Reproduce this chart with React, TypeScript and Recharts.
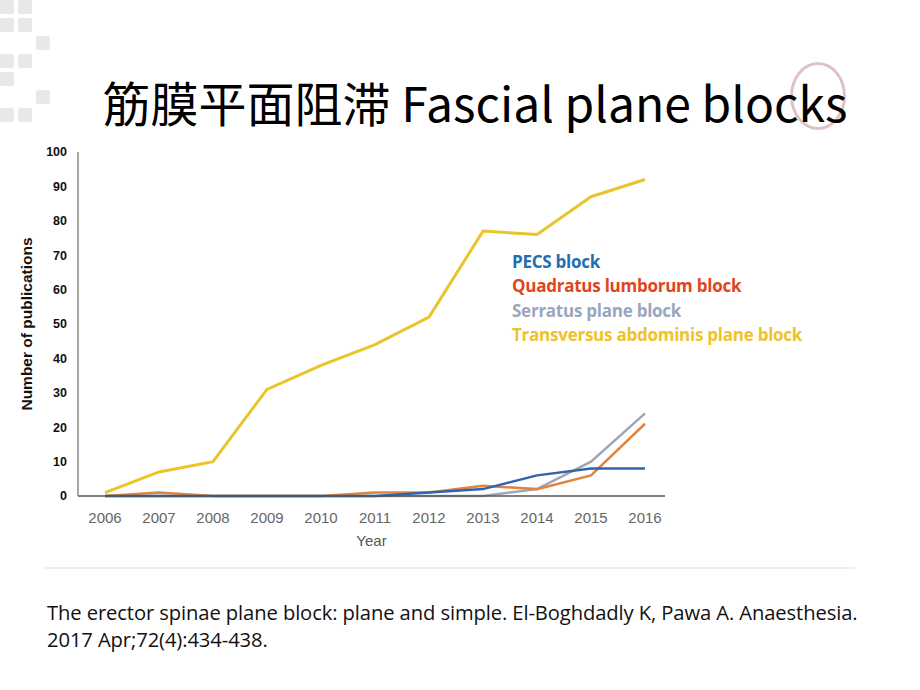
import React from "react";
import { LineChart, Line, XAxis, YAxis } from "recharts";

const years = [2006, 2007, 2008, 2009, 2010, 2011, 2012, 2013, 2014, 2015, 2016];
const pecs = [0, 0, 0, 0, 0, 0, 1, 2, 6, 8, 8];
const quadratus = [0, 1, 0, 0, 0, 1, 1, 3, 2, 6, 21];
const serratus = [0, 0, 0, 0, 0, 0, 0, 0, 2, 10, 24];
const transversus = [1, 7, 10, 31, 38, 44, 52, 77, 76, 87, 92];
const yTicks = [0, 10, 20, 30, 40, 50, 60, 70, 80, 90, 100];

const seriesNames = [
  "PECS block",
  "Quadratus lumborum block",
  "Serratus plane block",
  "Transversus abdominis plane block",
];
const lineColors = ["#2F64AE", "#E0843E", "#9EA6B4", "#E9C52B"];
const legendColors = ["#1F6EAF", "#DE4520", "#9AA6BC", "#F0C22A"];

const data = years.map((y, i) => ({
  year: y,
  pecs: pecs[i],
  quadratus: quadratus[i],
  serratus: serratus[i],
  transversus: transversus[i],
}));

export default function App() {
  const squares = [
    [0, 0], [18, 0], [0, 18], [18, 18], [36, 36], [0, 54], [18, 54], [0, 72], [36, 90], [0, 108], [18, 108],
  ];
  return (
    <div style={{ position: "absolute", left: 0, top: 0, width: 920, height: 690, background: "#fff", overflow: "hidden" }}>
      {squares.map(([x, y], i) => (
        <div key={i} style={{ position: "absolute", left: x, top: y, width: 14, height: 14, background: "#e8e8e8", borderRadius: 2 }} />
      ))}
      <div style={{ position: "absolute", left: 790, top: 62, width: 50, height: 62, borderRadius: "50%", border: "3px solid #c99", opacity: 0.6 }} />
      <div
        style={{
          position: "absolute",
          left: 0,
          width: 950,
          top: 70,
          textAlign: "center",
          fontFamily: "'Noto Sans CJK SC', 'Open Sans', sans-serif",
          fontSize: 48,
          color: "#000",
          lineHeight: "62px",
          whiteSpace: "nowrap",
        }}
      >
        筋膜平面阻滞 Fascial plane blocks
      </div>
      <div style={{ position: "absolute", left: 0, top: 0 }}>
        <LineChart width={920} height={690} data={data} margin={{ top: 152, right: 255, bottom: 146, left: 22 }}>
          <XAxis
            dataKey="year"
            type="number"
            domain={[2005.5, 2016.37]}
            ticks={years}
            tickLine={false}
            axisLine={{ stroke: "#555", strokeWidth: 1.5 }}
            tick={{ fill: "#666", fontSize: 15, fontFamily: "'Liberation Sans', Arial, sans-serif" }}
            tickMargin={10}
            height={48}
            label={{ value: "Year", position: "insideBottom", offset: -2, fill: "#555", fontSize: 15, fontFamily: "'Liberation Sans', Arial, sans-serif" }}
          />
          <YAxis
            type="number"
            domain={[0, 100]}
            ticks={yTicks}
            tickLine={false}
            axisLine={{ stroke: "#888", strokeWidth: 1.5 }}
            tick={{ fill: "#111", fontSize: 12.5, fontWeight: 700, fontFamily: "'Liberation Sans', Arial, sans-serif" }}
            tickMargin={5}
            width={56}
            label={{
              value: "Number of publications",
              angle: -90,
              position: "insideLeft",
              offset: 4,
              style: { textAnchor: "middle", fill: "#111", fontSize: 15.5, fontWeight: 700, fontFamily: "'Liberation Sans', Arial, sans-serif" },
            }}
          />
          <Line dataKey="serratus" name={seriesNames[2]} stroke={lineColors[2]} strokeWidth={2.5} dot={false} isAnimationActive={false} />
          <Line dataKey="quadratus" name={seriesNames[1]} stroke={lineColors[1]} strokeWidth={2.5} dot={false} isAnimationActive={false} />
          <Line dataKey="pecs" name={seriesNames[0]} stroke={lineColors[0]} strokeWidth={2.5} dot={false} isAnimationActive={false} />
          <Line dataKey="transversus" name={seriesNames[3]} stroke={lineColors[3]} strokeWidth={3} dot={false} isAnimationActive={false} />
        </LineChart>
      </div>
      <div
        style={{
          position: "absolute",
          left: 512,
          top: 250,
          fontFamily: "'Open Sans', sans-serif",
          fontWeight: 700,
          fontSize: 17,
          lineHeight: "24.4px",
          letterSpacing: -0.25,
        }}
      >
        {seriesNames.map((n, i) => (
          <div key={n} style={{ color: legendColors[i], whiteSpace: "nowrap" }}>{n}</div>
        ))}
      </div>
      <div style={{ position: "absolute", left: 45, top: 567, width: 810, height: 2, background: "#eee" }} />
      <div
        style={{
          position: "absolute",
          left: 47,
          top: 599,
          fontFamily: "'Open Sans', sans-serif",
          fontSize: 20.2,
          lineHeight: "27px",
          color: "#111",
          whiteSpace: "nowrap",
          letterSpacing: -0.1,
        }}
      >
        <div>The erector spinae plane block: plane and simple. El-Boghdadly K, Pawa A. Anaesthesia.</div>
        <div>2017 Apr;72(4):434-438.</div>
      </div>
    </div>
  );
}
